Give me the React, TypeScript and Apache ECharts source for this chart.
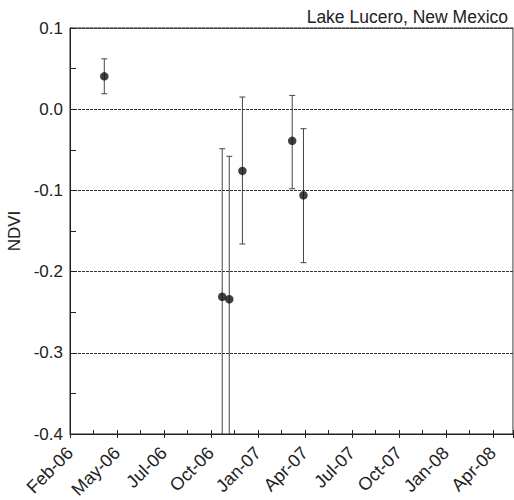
import React, { useEffect, useRef } from "react";
import * as echarts from "echarts";

// x positions in axis-tick units (0 = Feb-06 tick, 1 = May-06 tick, ...)
const tickLabels = ["Feb-06", "May-06", "Jul-06", "Oct-06", "Jan-07", "Apr-07", "Jul-07", "Oct-07", "Jan-08", "Apr-08"];
const xPos = [0.73, 3.24, 3.39, 3.67, 4.73, 4.97];
const ndvi = [0.0405, -0.231, -0.234, -0.076, -0.039, -0.106];
const errHigh = [0.062, -0.0487, -0.058, 0.015, 0.017, -0.024];
const errLow = [0.019, -0.52, -0.52, -0.166, -0.098, -0.189];

const FONT = "Liberation Sans, Arial, sans-serif";

export default function App() {
  const ref = useRef<HTMLDivElement>(null);
  useEffect(() => {
    if (!ref.current) return;
    const chart = echarts.init(ref.current, undefined, { renderer: "svg" });
    const errData = xPos.map((x, i) => [x, errLow[i], errHigh[i]]);
    const ptData = xPos.map((x, i) => [x, ndvi[i]]);
    const xMax = 9.43;
    chart.setOption({
      animation: false,
      backgroundColor: "#fff",
      title: {
        text: "Lake Lucero, New Mexico",
        right: 1,
        top: 3,
        textStyle: { fontFamily: FONT, fontSize: 17.5, fontWeight: "normal", color: "#222" },
      },
      grid: {
        left: 70,
        top: 28,
        right: 1,
        bottom: 66,
        containLabel: false,
        outerBoundsMode: "none",
        show: true,
        borderColor: "#222",
        borderWidth: 1,
      },
      xAxis: [
        {
          type: "value",
          position: "bottom",
          min: 0,
          max: xMax,
          interval: 1,
          axisLine: { show: true, onZero: false, lineStyle: { color: "#222", width: 1 } },
          axisTick: { show: true, inside: true, length: 4, lineStyle: { color: "#222" } },
          minorTick: { show: true, splitNumber: 2, length: 4, lineStyle: { color: "#222" } },
          splitLine: { show: false },
          axisLabel: {
            rotate: 45,
            fontFamily: FONT,
            fontSize: 18,
            color: "#222",
            margin: 16,
            showMaxLabel: false,
            formatter: (v: number) => {
              const i = Math.round(v);
              return Math.abs(v - i) < 1e-6 && tickLabels[i] ? tickLabels[i] : "";
            },
          },
        },
        {
          type: "value",
          position: "bottom",
          min: 0,
          max: xMax,
          interval: 1,
          axisLine: { show: false, onZero: false },
          axisTick: { show: true, inside: false, length: 4, lineStyle: { color: "#222" } },
          splitLine: { show: false },
          axisLabel: { show: false },
        },
      ],
      yAxis: [
        {
          type: "value",
          min: -0.4,
          max: 0.1,
          interval: 0.1,
          name: "NDVI",
          nameLocation: "middle",
          nameRotate: 90,
          nameGap: 46,
          nameTextStyle: { fontFamily: FONT, fontSize: 17, color: "#222" },
          axisLine: { show: true, onZero: false, lineStyle: { color: "#222", width: 1 } },
          axisTick: { show: true, inside: true, length: 6, lineStyle: { color: "#222" } },
          minorTick: { show: true, splitNumber: 2, length: 6, lineStyle: { color: "#222" } },
          splitLine: { show: true, lineStyle: { color: "#333", width: 1, type: [3, 1] } },
          axisLabel: {
            fontFamily: FONT,
            fontSize: 17,
            color: "#222",
            margin: 7,
            formatter: (v: number) => (Math.abs(v) < 1e-9 ? "0.0" : v.toFixed(1)),
          },
        },
        {
          type: "value",
          position: "right",
          min: -0.4,
          max: 0.1,
          interval: 0.1,
          axisLine: { show: true, onZero: false, lineStyle: { color: "#aaa", width: 1 } },
          axisTick: { show: false },
          splitLine: { show: false },
          axisLabel: { show: false },
        },
      ],
      series: [
        {
          type: "custom",
          clip: true,
          data: errData,
          z: 2,
          renderItem: (params: any, api: any) => {
            const x = api.value(0);
            const lo = api.coord([x, api.value(1)]);
            const hi = api.coord([x, api.value(2)]);
            const w = 3;
            const style = { stroke: "#444", lineWidth: 1 };
            return {
              type: "group",
              children: [
                { type: "line", shape: { x1: lo[0], y1: lo[1], x2: hi[0], y2: hi[1] }, style },
                { type: "line", shape: { x1: lo[0] - w, y1: lo[1], x2: lo[0] + w, y2: lo[1] }, style },
                { type: "line", shape: { x1: hi[0] - w, y1: hi[1], x2: hi[0] + w, y2: hi[1] }, style },
              ],
            };
          },
        },
        {
          type: "scatter",
          data: ptData,
          symbol: "circle",
          symbolSize: 8.5,
          itemStyle: { color: "#111" },
          z: 3,
        },
      ],
    });
    return () => chart.dispose();
  }, []);
  return <div ref={ref} style={{ position: "fixed", left: 0, top: 0, width: 514, height: 500 }} />;
}
